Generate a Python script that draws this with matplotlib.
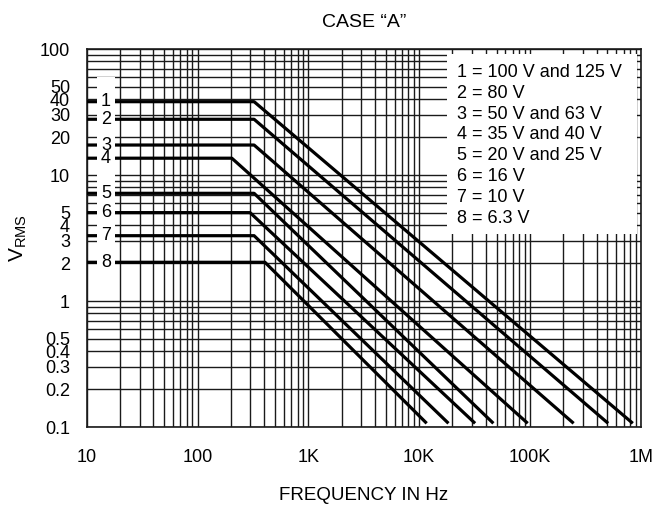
import numpy as np
import matplotlib
matplotlib.use('Agg')
import matplotlib.pyplot as plt
from matplotlib.patches import Rectangle

plt.rcParams['font.family'] = ['Liberation Sans', 'DejaVu Sans']

# datos (V_RMS vs frecuencia)
labels = ['1', '2', '3', '4', '5', '6', '7', '8']
nivel = [38.2, 27.7, 17.3, 13.6, 7.16, 5.03, 3.30, 2.03]          # V plano
f_codo = [324, 324, 324, 204, 324, 298, 324, 406]                  # Hz
f_fin = [848e3, 508e3, 248e3, 95.5e3, 46.8e3, 32e3, 18.4e3, 11.7e3]
v_fin = 0.107
f_ini = 10

leyenda = ['1 = 100 V and 125 V', '2 = 80 V', '3 = 50 V and 63 V',
           '4 = 35 V and 40 V', '5 = 20 V and 25 V', '6 = 16 V',
           '7 = 10 V', '8 = 6.3 V']

xticks = [10, 100, 1e3, 1e4, 1e5, 1e6]
xticklabels = ['10', '100', '1K', '10K', '100K', '1M']
yticks = [0.1, 0.2, 0.3, 0.4, 0.5, 1, 2, 3, 4, 5, 10, 20, 30, 40, 50, 100]
yticklabels = ['0.1', '0.2', '0.3', '0.4', '0.5', '1', '2', '3', '4', '5',
               '10', '20', '30', '40', '50', '100']

fs = 13

fig = plt.figure(figsize=(6.55, 5.08), dpi=100)
ax = fig.add_axes([0.1324, 0.1594, 0.8458, 0.7441])

for i in range(len(labels)):
    ax.plot([f_ini, f_codo[i], f_fin[i]], [nivel[i], nivel[i], v_fin],
            color='black', lw=2.3, solid_capstyle='butt', zorder=3)

ax.set_xscale('log')
ax.set_yscale('log')
ax.set_xlim(10, 1e6)
ax.set_ylim(0.1, 100)

ax.grid(which='both', color='#1a1a1a', lw=1.0, zorder=1)
ax.set_axisbelow(True)
ax.tick_params(which='both', length=0)
ax.tick_params(axis='x', pad=16, labelsize=fs)
ax.tick_params(axis='y', pad=12, labelsize=fs)
ax.set_xticks(xticks)
ax.set_xticklabels(xticklabels)
ax.set_yticks(yticks)
ax.set_yticklabels(yticklabels)
ax.minorticks_on()
ax.yaxis.set_minor_formatter(plt.NullFormatter())
ax.xaxis.set_minor_formatter(plt.NullFormatter())
for s in ax.spines.values():
    s.set_color('#1a1a1a')
    s.set_linewidth(1.2)

# columna blanca con los numeros de curva
ax.add_patch(Rectangle((12.4, 1.61), 18.0 - 12.4, 60 - 1.61, facecolor='white',
                       edgecolor='none', zorder=4))
for i in range(len(labels)):
    ax.text(14.9, nivel[i], labels[i], fontsize=fs, ha='center', va='center',
            zorder=5)

# recuadro de leyenda
ax.add_patch(Rectangle((0.6499, 0.5106), 0.9934 - 0.6499, 0.9868 - 0.5106,
                       transform=ax.transAxes, facecolor='white',
                       edgecolor='none', zorder=5))
ax.text(0.669, 0.961, '\n'.join(leyenda), transform=ax.transAxes, fontsize=fs,
        ha='left', va='top', linespacing=1.30, zorder=6)

ax.set_title('CASE \u201cA\u201d', fontsize=14, pad=16)
ax.set_xlabel('FREQUENCY IN Hz', fontsize=fs + 0.5, labelpad=15)
ax.set_ylabel('V$_\\mathregular{RMS}$', fontsize=15, labelpad=8)

fig.savefig('out.png', dpi=100)
